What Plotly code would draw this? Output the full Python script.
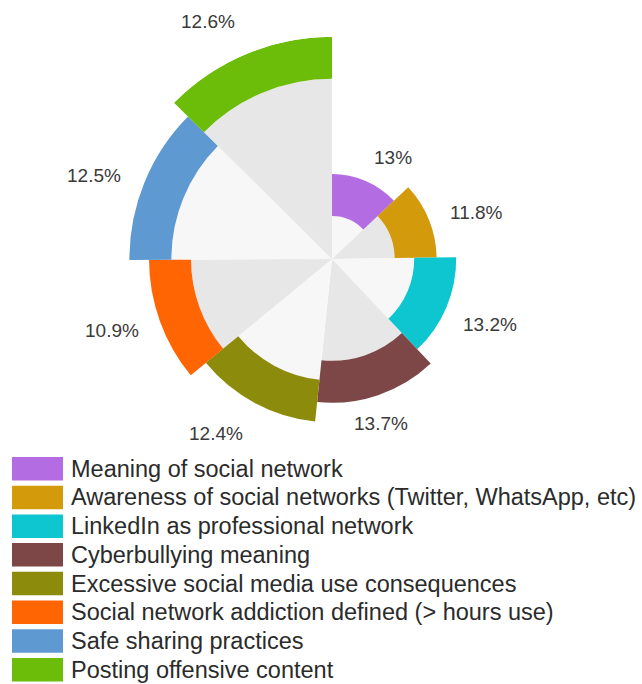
import math
import plotly.graph_objects as go

# Topics and their share of responses (%)
categories = [
    "Meaning of social network",
    "Awareness of social networks (Twitter, WhatsApp, etc)",
    "LinkedIn as professional network",
    "Cyberbullying meaning",
    "Excessive social media use consequences",
    "Social network addiction defined (> hours use)",
    "Safe sharing practices",
    "Posting offensive content",
]
shares = [13.0, 11.8, 13.2, 13.7, 12.4, 10.9, 12.5, 12.6]

colors = ["#B46CE2", "#D39A0C", "#0EC6CF", "#7E4747",
          "#8D8B0B", "#FF6503", "#5F99D2", "#6CBC0A"]
base_fills = ["#F7F7F7", "#E7E7E7"]

# Ring geometry (radial units == pixels of the polar area)
OUTER_START = 85.0
OUTER_STEP = 19.6
BAND = 42.0
R_MAX = OUTER_START + OUTER_STEP * (len(shares) - 1)

# Percentage label placement relative to each slice
label_gap = [33, 47, 47, 28, 46, 48, 50, 46]
label_turn = [7.7, 4.2, -0.3, 2.2, 5.4, 1.9, -2.9, -4.9]

total = sum(shares)
spans = [v / total * 360.0 for v in shares]
mids = []
acc = 0.0
for s in spans:
    mids.append(acc + s / 2.0)
    acc += s

outer = [OUTER_START + OUTER_STEP * i for i in range(len(shares))]
inner = [o - BAND for o in outer]
labels = [f"{v:g}%" for v in shares]

fig = go.Figure()

# Grey wedges from the centre out to each coloured band
fig.add_trace(go.Barpolar(
    r=inner,
    theta=mids,
    width=spans,
    marker=dict(color=[base_fills[i % 2] for i in range(len(shares))],
                line=dict(width=0)),
    hoverinfo="skip",
    showlegend=False,
))

# Coloured outer bands
fig.add_trace(go.Barpolar(
    r=[BAND] * len(shares),
    base=inner,
    theta=mids,
    width=spans,
    marker=dict(color=colors, line=dict(width=0)),
    customdata=shares,
    text=categories,
    hovertemplate="%{text}: %{customdata}%<extra></extra>",
    showlegend=False,
))

W, H = 642, 684
cx, cy = 332.0, 259.0
fig.update_layout(
    width=W, height=H,
    margin=dict(l=0, r=0, t=0, b=0),
    paper_bgcolor="white",
    showlegend=False,
    polar=dict(
        domain=dict(x=[(cx - R_MAX) / W, (cx + R_MAX) / W],
                    y=[1 - (cy + R_MAX) / H, 1 - (cy - R_MAX) / H]),
        bgcolor="rgba(0,0,0,0)",
        angularaxis=dict(rotation=90, direction="clockwise", visible=False,
                         showgrid=False),
        radialaxis=dict(range=[0, R_MAX], visible=False, showgrid=False),
    ),
)

notes, shapes = [], []

# Percentage labels outside the rose (some sit beyond the radial range,
# so they are placed in paper space using the same centre/scale)
for o, g, m, t, lab in zip(outer, label_gap, mids, label_turn, labels):
    rr = o + g
    ang = math.radians(m + t)
    px = cx + rr * math.sin(ang)
    py = cy - rr * math.cos(ang)
    notes.append(dict(xref="paper", yref="paper", x=px / W, y=1 - py / H,
                      xanchor="center", yanchor="middle", showarrow=False,
                      text=lab,
                      font=dict(family="Liberation Sans, Arial", size=19,
                                color="#3A3A3A")))

# Legend: swatch + label per topic
row_top, row_step, sw_h = 457.0, 28.7, 23.5
for i, (name, col) in enumerate(zip(categories, colors)):
    y0 = row_top + i * row_step
    shapes.append(dict(type="rect", xref="paper", yref="paper",
                       x0=12 / W, x1=63 / W,
                       y0=1 - (y0 + sw_h) / H, y1=1 - y0 / H,
                       fillcolor=col, line=dict(width=0)))
    notes.append(dict(xref="paper", yref="paper",
                      x=69 / W, y=1 - (y0 + sw_h / 2) / H,
                      xanchor="left", yanchor="middle", showarrow=False,
                      text=name,
                      font=dict(family="Liberation Sans, Arial", size=23.5,
                                color="#2B2B2B")))
fig.update_layout(shapes=shapes, annotations=notes)

fig.write_html("out.html")
